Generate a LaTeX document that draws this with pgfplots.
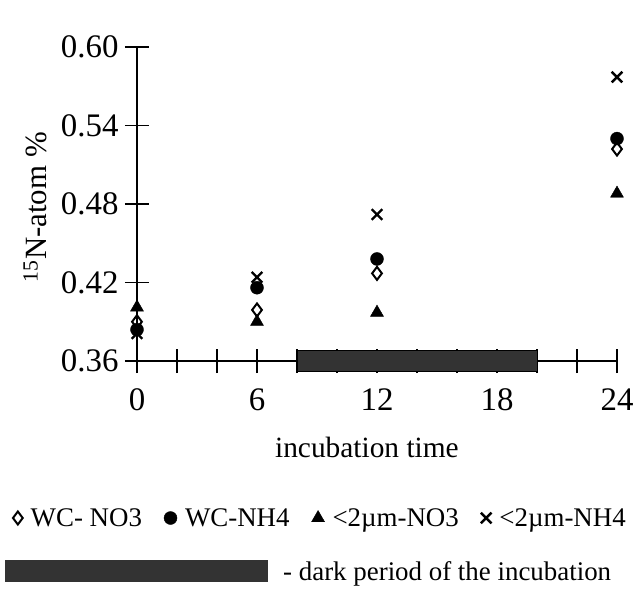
\documentclass[border=0pt]{standalone}
\usepackage{fontspec}
\setmainfont{Liberation Serif}
\usepackage{pgfplots}
\pgfplotsset{compat=1.18}
\begin{document}
\begin{tikzpicture}
\useasboundingbox (-137bp,-229bp) rectangle (499bp,361bp);
\begin{axis}[
  at={(0,0)}, anchor=south west,
  scale only axis, width=480bp, height=314bp,
  xmin=0, xmax=24, ymin=0.36, ymax=0.60,
  axis lines*=left,
  axis line style={line width=2.2bp},
  clip=false,
  xtick={0,6,12,18,24},
  minor xtick={2,4,8,10,14,16,20,22},
  ytick={0.36,0.42,0.48,0.54,0.60},
  tick align=center,
  major tick length=24bp, minor tick length=24bp,
  every tick/.style={line width=1.8bp, black},
  every minor tick/.style={line width=1.8bp, black},
  /pgf/number format/assume math mode=true,
  y tick label style={/pgf/number format/fixed, /pgf/number format/fixed zerofill, /pgf/number format/precision=2, xshift=-3bp},
  ticklabel style={font=\fontsize{33}{40}\selectfont},
  x tick label style={yshift=-12bp},
  xlabel={incubation time},
  xlabel style={font=\fontsize{29.5}{34}\selectfont, at={(axis description cs:0.479,-0.274)}, anchor=center},
  ylabel={\textsuperscript{15}N-atom \%},
  ylabel style={font=\fontsize{31}{36}\selectfont, at={(axis description cs:-0.212,0.49)}, anchor=center},
  legend columns=4,
  legend style={draw=none, at={(axis description cs:0.382,-0.5)}, anchor=center,
    font=\fontsize{27}{32}\selectfont, /tikz/every even column/.append style={column sep=20bp}},
  legend cell align=left,
]
\addplot[draw=black, line width=0.8bp, fill=black!80, forget plot]
  coordinates {(8,0.3518) (20,0.3518) (20,0.3682) (8,0.3682)} -- cycle;
\addplot[only marks, mark=diamond, mark size=6.5bp, mark options={line width=2bp, fill=white, draw=black}]
  coordinates {(0,0.390) (6,0.399) (12,0.427) (24,0.522)};
\addlegendentry{\hspace{6bp}WC- NO3}
\addplot[only marks, mark=*, mark size=6.5bp, mark options={fill=black, draw=black}]
  coordinates {(0,0.384) (6,0.416) (12,0.438) (24,0.530)};
\addlegendentry{\hspace{6bp}WC-NH4}
\addplot[only marks, mark=triangle*, mark size=7.5bp, mark options={fill=black, draw=black}]
  coordinates {(0,0.401) (6,0.390) (12,0.397) (24,0.488)};
\addlegendentry{\hspace{6bp}<2µm-NO3}
\addplot[only marks, mark=x, mark size=7.5bp, mark options={line width=2.4bp, draw=black}]
  coordinates {(0,0.381) (6,0.424) (12,0.472) (24,0.577)};
\addlegendentry{\hspace{6bp}<2µm-NH4}
\end{axis}
\fill[black!80] (-132bp,-221bp) rectangle (131bp,-199bp);
\node[anchor=west, font=\fontsize{27}{32}\selectfont, inner sep=0pt] at (146bp,-213bp) {- dark period of the incubation};
\end{tikzpicture}
\end{document}
